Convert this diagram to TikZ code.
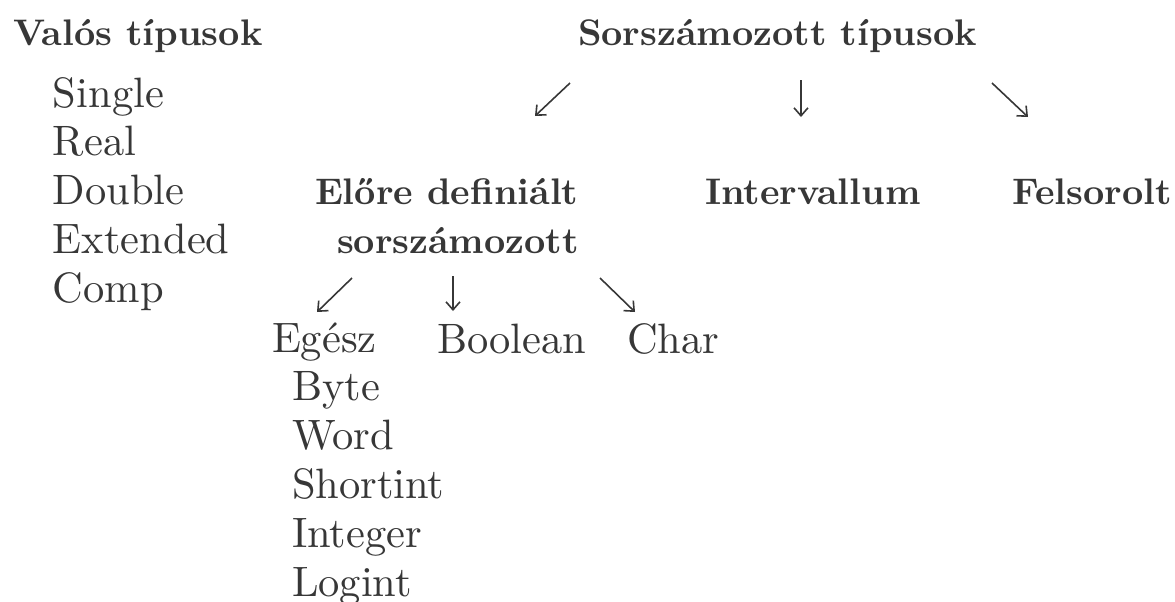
\documentclass[tikz,border=0pt]{standalone}
\usetikzlibrary{arrows.meta}
\definecolor{ink}{RGB}{55,55,55}
\tikzset{
  lbl/.style={anchor=base west, inner sep=0pt, outer sep=0pt, text=ink},
  txt/.style={lbl, font=\fontsize{10}{12}\selectfont, scale=2.125},
  head/.style={lbl, font=\fontsize{10}{12}\bfseries, scale=1.85},
  arr/.style={draw=ink, line width=0.8pt, -{Straight Barb[length=4pt,width=7pt]}}
}
\begin{document}
\begin{tikzpicture}[x=0.5pt,y=-0.5pt]
\useasboundingbox (0,0) rectangle (1175,601);

% real types
\node[head] (valos) at (13,45) {Valós típusok};
\foreach \t [count=\i] in {Single,Real,Double,Extended,Comp}
  \node[txt] (real\i) at (53,{107+48.75*(\i-1)}) {\t};

% ordinal types
\node[head] (sorsz) at (578,45) {Sorszámozott típusok};
\node[head] (predef) at (315,204) {Előre definiált};
\node[head] (predef2) at (337,253) {sorszámozott};
\node[head] (interv) at (705,204) {Intervallum};
\node[head] (felsor) at (1012,204) {Felsorolt};

\coordinate (s1) at (570,83);  \coordinate (e1) at (535,116);
\coordinate (s2) at (801,80);  \coordinate (e2) at (801,117);
\coordinate (s3) at (992,83);  \coordinate (e3) at (1028,117);
\draw[arr] (s1) -- (e1);
\draw[arr] (s2) -- (e2);
\draw[arr] (s3) -- (e3);

% predefined ordinals
\node[txt] (egesz) at (272,352) {Egész};
\node[txt] (bool) at (437,353) {Boolean};
\node[txt] (char) at (627,353) {Char};
\foreach \t [count=\i] in {Byte,Word,Shortint,Integer,Logint}
  \node[txt] (int\i) at (292,{400+49*(\i-1)}) {\t};

\coordinate (p1) at (352,278); \coordinate (q1) at (317,312);
\coordinate (p2) at (453,276); \coordinate (q2) at (453,311);
\coordinate (p3) at (600,278); \coordinate (q3) at (635,312);
\draw[arr] (p1) -- (q1);
\draw[arr] (p2) -- (q2);
\draw[arr] (p3) -- (q3);
\end{tikzpicture}
\end{document}
